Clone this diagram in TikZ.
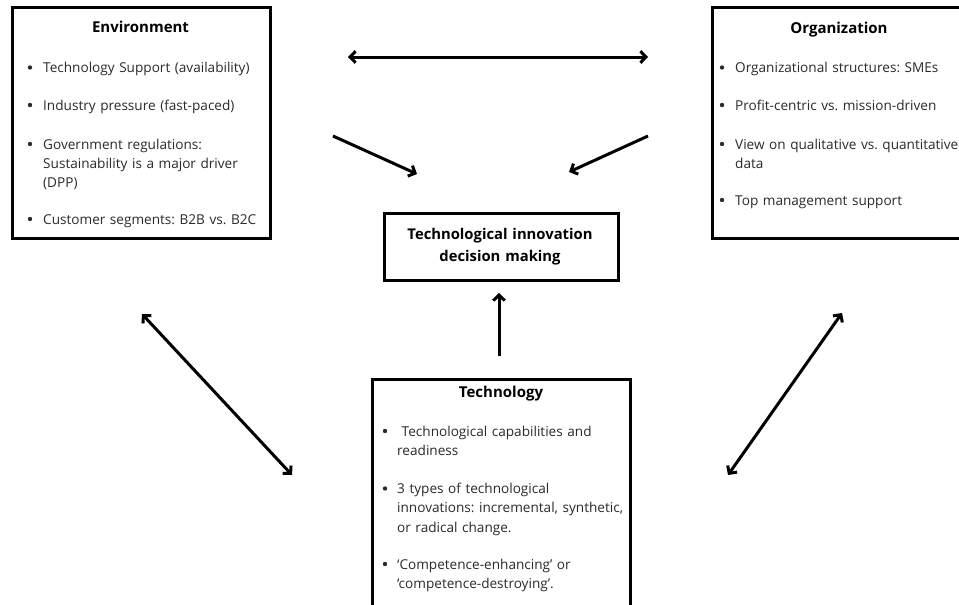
\documentclass[tikz,border=0pt]{standalone}
\usepackage{fontspec}
\setmainfont{Open Sans}
\usetikzlibrary{arrows.meta}
\definecolor{txt}{HTML}{2A2A2A}
\frenchspacing
\tikzset{
  box/.style={draw=black, line width=3.1pt, inner sep=0pt, fill=white, anchor=north west},
  ttl/.style={font=\bfseries\fontsize{15}{18}\selectfont, text=black, inner sep=0pt, anchor=base},
  ctext/.style={font=\bfseries\fontsize{14.8}{22}\selectfont, text=black, inner sep=0pt, anchor=base, text width=230pt, align=center},
  itm/.style={font=\fontsize{13.6}{19.4}\selectfont\frenchspacing, text=txt, inner sep=0pt, anchor=base west, text width=300pt, align=left},
  dot/.style={circle, fill=txt, inner sep=0pt, minimum size=4.4pt},
  tipb/.tip={Straight Barb[length=5.5pt,width=11.5pt,line width=3pt]},
  arr/.style={line width=3pt, -tipb},
  darr/.style={line width=3pt, tipb-tipb}
}
\begin{document}
\begin{tikzpicture}[x=1pt,y=-1pt]
\useasboundingbox (0,0) rectangle (959,605);
\clip (0,0) rectangle (959,605);
\fill[white] (0,0) rectangle (959,605);

% boxes
\node[box, minimum width=258pt, minimum height=231pt] (env) at (11,6) {};
\node[box, minimum width=270pt, minimum height=231pt] (org) at (711,6) {};
\node[box, minimum width=234pt, minimum height=67pt] (dec) at (383,212) {};
\node[box, minimum width=258pt, minimum height=260pt] (tec) at (371,378) {};

% titles
\node[ttl] (envt) at (140.5,32.5) {Environment};
\node[ttl] (orgt) at (839,33) {Organization};
\node[ttl] (tect) at (501,397) {Technology};
\node[ctext] (dect) at (500,239.5) {Technological innovation\\decision making};

% environment items
\node[dot] (eb1) at (30,67.5) {};
\node[itm] (e1) at (43,72.5) {Technology Support (availability)};
\node[dot] (eb2) at (30,105) {};
\node[itm] (e2) at (43,110) {Industry pressure (fast-paced)};
\node[dot] (eb3) at (30,144) {};
\node[itm] (e3) at (43,149) {Government regulations:\\Sustainability is a major driver\\(DPP)};
\node[dot] (eb4) at (30,219) {};
\node[itm] (e4) at (43,224) {Customer segments: B2B vs. B2C};

% organization items
\node[dot] (ob1) at (722,67.5) {};
\node[itm] (o1) at (735,72.5) {Organizational structures: SMEs};
\node[dot] (ob2) at (722,105) {};
\node[itm] (o2) at (735,110) {Profit-centric vs. mission-driven};
\node[dot] (ob3) at (722,144) {};
\node[itm] (o3) at (735,149) {View on qualitative vs. quantitative\\data};
\node[dot] (ob4) at (722,200) {};
\node[itm] (o4) at (735,205) {Top management support};

% technology items
\node[dot] (tb1) at (385,431) {};
\node[itm] (t1) at (397,436) {\ Technological capabilities and\\readiness};
\node[dot] (tb2) at (385,488.5) {};
\node[itm] (t2) at (397,493.5) {3 types of technological\\innovations: incremental, synthetic,\\or radical change.};
\node[dot] (tb3) at (385,564) {};
\node[itm] (t3) at (397,569) {‘Competence-enhancing’ or\\‘competence-destroying’.};

% arrow ends
\coordinate (hL) at (348,57);
\coordinate (hR) at (648,57);
\coordinate (lS) at (333,136);
\coordinate (lE) at (417,174);
\coordinate (rS) at (648,136);
\coordinate (rE) at (569,172);
\coordinate (vS) at (499,356);
\coordinate (vE) at (499,293);
\coordinate (dlA) at (142,314);
\coordinate (dlB) at (292,475);
\coordinate (drA) at (842,313);
\coordinate (drB) at (728,475);

\draw[darr] (hL) -- (hR);
\draw[arr] (lS) -- (lE);
\draw[arr] (rS) -- (rE);
\draw[arr] (vS) -- (vE);
\draw[darr] (dlA) -- (dlB);
\draw[darr] (drA) -- (drB);
\end{tikzpicture}
\end{document}
